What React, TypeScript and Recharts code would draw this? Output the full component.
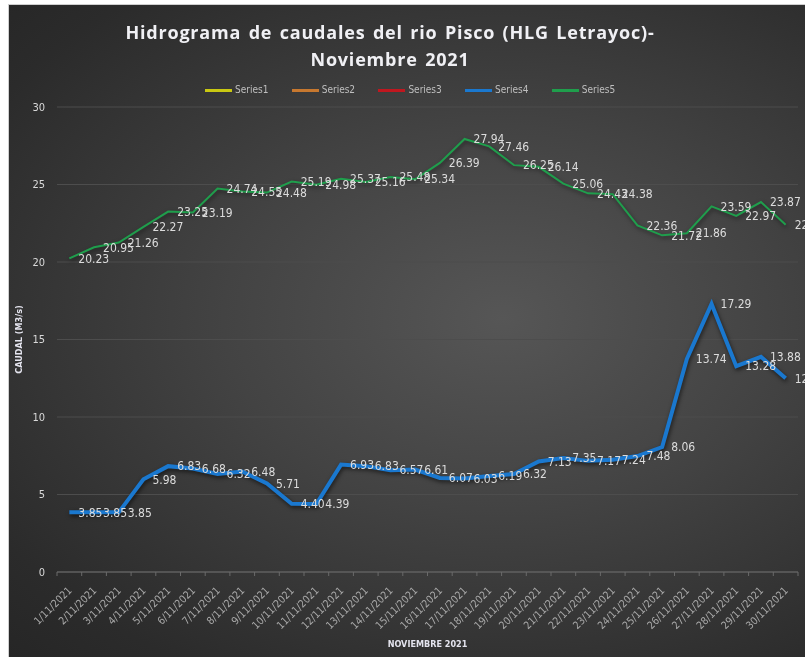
import {
  CartesianGrid,
  LabelList,
  Legend,
  Line,
  LineChart,
  XAxis,
  YAxis,
} from "recharts";

const FECHAS = [
  "1/11/2021", "2/11/2021", "3/11/2021", "4/11/2021", "5/11/2021",
  "6/11/2021", "7/11/2021", "8/11/2021", "9/11/2021", "10/11/2021",
  "11/11/2021", "12/11/2021", "13/11/2021", "14/11/2021", "15/11/2021",
  "16/11/2021", "17/11/2021", "18/11/2021", "19/11/2021", "20/11/2021",
  "21/11/2021", "22/11/2021", "23/11/2021", "24/11/2021", "25/11/2021",
  "26/11/2021", "27/11/2021", "28/11/2021", "29/11/2021", "30/11/2021",
];

const SERIES4 = [
  3.85, 3.85, 3.85, 5.98, 6.83, 6.68, 6.32, 6.48, 5.71, 4.4,
  4.39, 6.93, 6.83, 6.57, 6.61, 6.07, 6.03, 6.19, 6.32, 7.13,
  7.35, 7.17, 7.24, 7.48, 8.06, 13.74, 17.29, 13.28, 13.88, 12.5,
];

const SERIES5 = [
  20.23, 20.95, 21.26, 22.27, 23.25, 23.19, 24.74, 24.55, 24.48, 25.19,
  24.98, 25.37, 25.16, 25.48, 25.34, 26.39, 27.94, 27.46, 26.25, 26.14,
  25.06, 24.43, 24.38, 22.36, 21.72, 21.86, 23.59, 22.97, 23.87, 22.4,
];

const Y_TICKS = [0, 5, 10, 15, 20, 25, 30];

const LEGEND_ITEMS = [
  { name: "Series1", color: "#c9c812" },
  { name: "Series2", color: "#c7782f" },
  { name: "Series3", color: "#c0171f" },
  { name: "Series4", color: "#1a78cf" },
  { name: "Series5", color: "#1f9e4c" },
];

const NARROW = "'DejaVu Sans Condensed', 'Open Sans', sans-serif";

const CHART_W = 796;
const CHART_H = 652;
const MARGIN = { top: 102, right: 7, left: 8, bottom: 15 };
const Y_AXIS_W = 40;
const BAND = (CHART_W - MARGIN.left - MARGIN.right - Y_AXIS_W) / FECHAS.length;

const data = FECHAS.map((fecha, i) => ({
  fecha,
  s4: SERIES4[i],
  s5: SERIES5[i],
}));

function FechaTick(props: any) {
  const { x, y, payload, index } = props;
  return (
    <g>
      {index === 0 ? (
        <line x1={x - BAND / 2} x2={x - BAND / 2} y1={y - 8} y2={y - 4} stroke="#6a6a6a" />
      ) : null}
      <line x1={x + BAND / 2} x2={x + BAND / 2} y1={y - 8} y2={y - 4} stroke="#6a6a6a" />
      <text
        x={0}
        y={0}
        transform={`translate(${x + 1},${y + 9}) rotate(-45)`}
        textAnchor="end"
        dominantBaseline="middle"
        fontSize={10.5}
        fill="#a8a8a8"
        fontFamily={NARROW}
      >
        {payload.value}
      </text>
    </g>
  );
}

function SeriesLegend() {
  return (
    <div style={{ display: "flex" }}>
      {LEGEND_ITEMS.map((item) => (
        <div
          key={item.name}
          style={{ width: 86.7, display: "flex", alignItems: "center" }}
        >
          <span
            style={{
              display: "inline-block",
              width: 27,
              height: 3,
              background: item.color,
              marginRight: 3,
            }}
          />
          <span
            style={{
              fontSize: 10,
              color: "#bfbfbf",
              lineHeight: "12px",
              fontFamily: NARROW,
            }}
          >
            {item.name}
          </span>
        </div>
      ))}
    </div>
  );
}

const fmt = (v: any) => Number(v).toFixed(2);

export default function App() {
  return (
    <div
      style={{
        position: "fixed",
        left: 8,
        top: 4,
        width: 797,
        height: 653,
        boxSizing: "border-box",
        borderLeft: "1px solid #cfcfcf",
        borderTop: "1px solid #cfcfcf",
        background:
          "radial-gradient(ellipse at 62% 48%, #565656 0%, #434343 40%, #2b2b2b 85%, #262626 100%)",
        fontFamily: "Open Sans, sans-serif",
        overflow: "hidden",
      }}
    >
      <div
        style={{
          position: "absolute",
          left: 0,
          top: 14,
          width: 762,
          textAlign: "center",
          color: "#f0f0f4",
          fontWeight: 700,
          fontSize: 18,
          letterSpacing: 0.8,
          wordSpacing: 2,
          lineHeight: "27px",
        }}
      >
        Hidrograma de caudales del rio Pisco (HLG Letrayoc)-
        <br />
        Noviembre 2021
      </div>
      <LineChart width={CHART_W} height={CHART_H} data={data} margin={MARGIN}>
        <CartesianGrid vertical={false} stroke="#4d4d4d" />
        <XAxis
          dataKey="fecha"
          interval={0}
          height={70}
          padding={{ left: BAND / 2, right: BAND / 2 }}
          tickLine={false}
          axisLine={{ stroke: "#6a6a6a" }}
          tick={<FechaTick />}
          label={{
            value: "NOVIEMBRE 2021",
            position: "insideBottom",
            offset: -5,
            fill: "#e4e4ee",
            fontSize: 9,
            fontWeight: 700,
            fontFamily: NARROW,
          }}
        />
        <YAxis
          width={Y_AXIS_W}
          domain={[0, 30]}
          ticks={Y_TICKS}
          axisLine={false}
          tickLine={false}
          tickMargin={6}
          tick={{ fill: "#d9d9d9", fontSize: 11, fontFamily: NARROW }}
          label={{
            value: "CAUDAL (M3/s)",
            angle: -90,
            position: "insideLeft",
            offset: 2,
            fill: "#e4e4ee",
            fontSize: 9,
            fontWeight: 700,
            fontFamily: NARROW,
            style: { textAnchor: "middle" },
          }}
        />
        <Legend
          layout="horizontal"
          verticalAlign="middle"
          align="center"
          wrapperStyle={{ position: "absolute", top: 79, left: 196, width: 450 }}
          content={<SeriesLegend />}
        />
        <Line
          type="linear"
          dataKey="s4"
          name="Series4"
          stroke="#1a78cf"
          strokeWidth={4}
          dot={false}
          isAnimationActive={false}
          style={{ filter: "drop-shadow(1px 2px 2px rgba(0,0,0,0.6))" }}
        >
          <LabelList
            dataKey="s4"
            position="right"
            offset={9}
            formatter={fmt}
            fill="#dcdcdc"
            fontSize={12}
            fontFamily={NARROW}
          />
        </Line>
        <Line
          type="linear"
          dataKey="s5"
          name="Series5"
          stroke="#1f9e4c"
          strokeWidth={2}
          dot={false}
          isAnimationActive={false}
          style={{ filter: "drop-shadow(1px 2px 2px rgba(0,0,0,0.5))" }}
        >
          <LabelList
            dataKey="s5"
            position="right"
            offset={9}
            formatter={fmt}
            fill="#dcdcdc"
            fontSize={12}
            fontFamily={NARROW}
          />
        </Line>
      </LineChart>
    </div>
  );
}
